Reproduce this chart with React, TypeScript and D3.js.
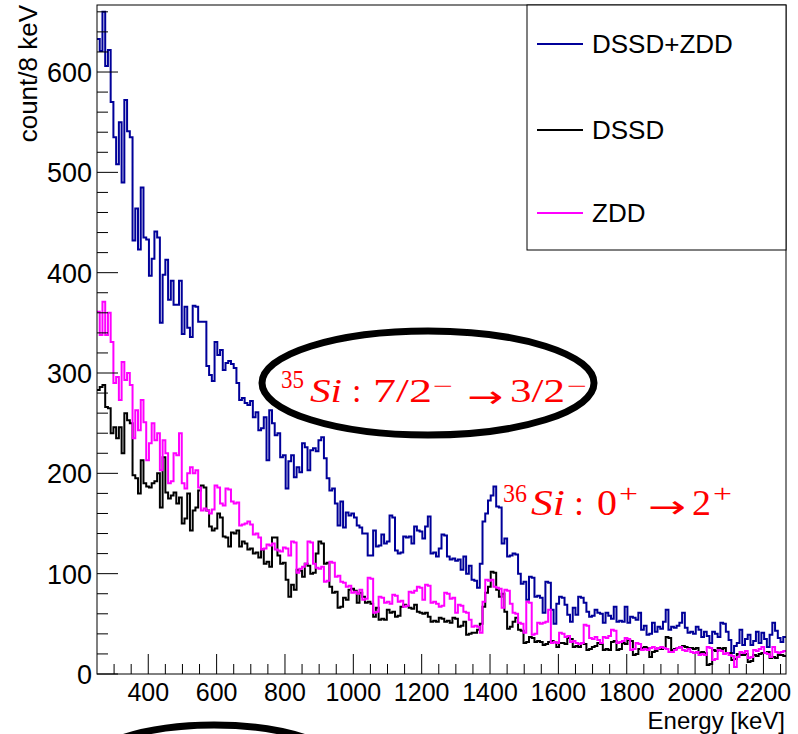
import React from "react";
import * as d3 from "d3";

// 8 keV bins starting at 250 keV
const eMin = 250;
const binWidth = 8;

const sumCounts = [
  633, 621, 660, 606, 622, 570, 535, 508, 550, 490,
  572, 541, 535, 432, 464, 423, 485, 435, 433, 397,
  414, 441, 435, 350, 398, 413, 373, 392, 368, 368,
  392, 339, 366, 345, 336, 367, 366, 351, 351, 351,
  307, 298, 292, 331, 318, 323, 303, 310, 312, 309,
  305, 290, 273, 275, 270, 268, 272, 256, 261, 243,
  245, 256, 213, 263, 250, 238, 240, 216, 218, 185,
  212, 218, 196, 206, 201, 230, 226, 203, 223, 225,
  222, 233, 236, 215, 195, 183, 185, 170, 148, 172,
  146, 161, 158, 160, 156, 148, 146, 140, 140, 118,
  118, 143, 127, 128, 139, 130, 132, 158, 156, 123,
  120, 121, 137, 136, 137, 130, 147, 143, 142, 135,
  147, 157, 120, 121, 117, 125, 139, 138, 117, 114,
  115, 113, 114, 104, 117, 100, 108, 94, 93, 86,
  110, 152, 160, 173, 178, 187, 167, 166, 130, 135,
  117, 118, 120, 119, 100, 90, 92, 74, 97, 96,
  77, 78, 76, 61, 92, 91, 64, 50, 70, 77,
  76, 69, 59, 52, 66, 59, 77, 76, 71, 62,
  57, 58, 64, 61, 60, 51, 61, 58, 55, 67,
  52, 53, 52, 67, 51, 57, 56, 54, 61, 44,
  48, 39, 40, 51, 42, 47, 45, 52, 64, 44,
  47, 46, 48, 51, 61, 46, 41, 42, 40, 47,
  44, 37, 42, 38, 31, 42, 40, 37, 51, 50,
  42, 34, 21, 28, 31, 44, 29, 35, 39, 29,
  33, 42, 31, 41, 35, 27, 39, 51, 43, 36,
  32, 37,
];

const dssdCounts = [
  283, 286, 288, 266, 265, 240, 246, 235, 246, 220,
  260, 253, 250, 198, 195, 180, 213, 190, 187, 186,
  190, 192, 200, 166, 216, 181, 175, 178, 181, 170,
  176, 150, 155, 180, 143, 163, 166, 183, 188, 186,
  163, 147, 143, 145, 160, 156, 137, 136, 127, 141,
  140, 143, 127, 132, 130, 124, 125, 120, 121, 116,
  124, 110, 112, 107, 136, 136, 118, 110, 111, 94,
  77, 89, 84, 104, 103, 97, 110, 108, 100, 101,
  120, 132, 130, 110, 111, 87, 81, 82, 66, 67,
  76, 74, 84, 85, 83, 71, 81, 77, 71, 72,
  70, 57, 66, 54, 55, 54, 64, 61, 62, 57,
  58, 67, 69, 68, 66, 65, 69, 62, 61, 60,
  61, 57, 52, 53, 52, 56, 55, 52, 53, 51,
  56, 55, 47, 48, 52, 39, 40, 41, 41, 44,
  50, 67, 81, 87, 102, 101, 84, 77, 80, 62,
  45, 47, 52, 56, 44, 43, 31, 32, 37, 36,
  32, 33, 32, 29, 30, 32, 33, 32, 27, 31,
  31, 30, 36, 35, 27, 28, 27, 31, 30, 24,
  25, 27, 28, 31, 30, 24, 25, 24, 32, 33,
  24, 25, 31, 30, 34, 33, 19, 20, 25, 26,
  27, 26, 17, 22, 23, 26, 25, 26, 37, 36,
  24, 25, 26, 27, 28, 27, 26, 26, 25, 26,
  21, 22, 21, 9, 10, 24, 23, 26, 25, 26,
  21, 21, 14, 15, 20, 19, 19, 20, 12, 13,
  19, 18, 20, 21, 21, 22, 16, 17, 16, 19,
  19, 18,
];

const zddCounts = [
  361, 338, 371, 338, 360, 331, 290, 296, 273, 311,
  293, 300, 288, 235, 263, 243, 273, 251, 213, 230,
  250, 233, 240, 203, 233, 220, 190, 192, 220, 218,
  240, 190, 185, 200, 206, 200, 203, 186, 163, 165,
  163, 160, 164, 188, 186, 170, 168, 185, 184, 172,
  170, 171, 148, 149, 150, 152, 149, 139, 140, 136,
  124, 125, 129, 128, 130, 124, 123, 122, 126, 125,
  118, 132, 131, 101, 105, 107, 110, 132, 131, 110,
  106, 105, 107, 92, 93, 112, 111, 97, 98, 92,
  91, 87, 88, 81, 82, 80, 84, 74, 75, 96,
  95, 61, 62, 77, 76, 71, 72, 70, 79, 78,
  72, 73, 67, 68, 82, 81, 83, 87, 86, 74,
  89, 88, 71, 72, 70, 67, 68, 81, 80, 75,
  76, 61, 69, 68, 62, 61, 54, 47, 48, 47,
  41, 72, 94, 93, 94, 87, 86, 85, 66, 84,
  83, 70, 61, 60, 51, 50, 41, 72, 71, 39,
  40, 51, 50, 51, 52, 64, 31, 32, 31, 41,
  40, 37, 38, 32, 33, 31, 30, 31, 49, 48,
  36, 35, 37, 34, 31, 37, 36, 38, 44, 43,
  31, 32, 33, 36, 35, 24, 25, 31, 30, 24,
  25, 24, 26, 27, 25, 26, 27, 26, 25, 22,
  22, 24, 26, 27, 24, 23, 25, 22, 21, 22,
  19, 20, 19, 27, 26, 14, 15, 24, 23, 20,
  21, 19, 18, 7, 17, 22, 21, 23, 16, 17,
  24, 23, 25, 27, 21, 20, 17, 27, 22, 21,
  22, 23,
];

const seriesNames = ["DSSD+ZDD", "DSSD", "ZDD"];
const seriesColors = ["#000099", "#000000", "#ff00ff"];
const xTickValues = [400, 600, 800, 1000, 1200, 1400, 1600, 1800, 2000, 2200];
const yTickValues = [0, 100, 200, 300, 400, 500, 600];

const W = 798;
const H = 734;
const plot = { left: 97, right: 786, top: 5, bottom: 674 };
const FONT = "'Liberation Sans', Arial, Helvetica, sans-serif";
const SERIF = "'Liberation Serif', 'Times New Roman', serif";
const ARROW = "'DejaVu Sans', sans-serif";
const RED = "#ff0000";

export default function App() {
  const nBins = sumCounts.length;
  const eMax = eMin + nBins * binWidth;

  const x = d3.scaleLinear().domain([eMin, eMax]).range([plot.left, plot.right]);
  const y = d3.scaleLinear().domain([0, 666.8]).range([plot.bottom, plot.top]);

  const stepPath = (counts: number[]) => {
    const pts: [number, number][] = counts.map((c, i) => [eMin + i * binWidth, c]);
    pts.push([eMin + counts.length * binWidth, counts[counts.length - 1]]);
    return d3
      .line<[number, number]>()
      .x((d) => x(d[0]))
      .y((d) => y(d[1]))
      .curve(d3.curveStepAfter)(pts) as string;
  };

  const allSeries = [sumCounts, dssdCounts, zddCounts];

  const xMinor = d3.range(eMin, eMax + 1, 50).filter((v) => v % 200 !== 0 && v > eMin);
  const yMinor = d3.range(0, 667, 20).filter((v) => v % 100 !== 0);

  const legendY = [44, 130, 213];

  return (
    <svg
      width={W}
      height={H}
      style={{ position: "absolute", left: 0, top: 0, background: "#fff" }}
      fontFamily={FONT}
    >
      <defs>
        <clipPath id="plotClip">
          <rect x={plot.left} y={plot.top} width={plot.right - plot.left} height={plot.bottom - plot.top} />
        </clipPath>
      </defs>
      <rect x={0} y={0} width={W} height={H} fill="#fff" />

      {/* histograms */}
      <g clipPath="url(#plotClip)">
        {allSeries.map((s, i) => (
          <path key={i} d={stepPath(s)} fill="none" stroke={seriesColors[i]} strokeWidth={2} />
        ))}
      </g>

      {/* frame */}
      <rect
        x={plot.left}
        y={plot.top}
        width={plot.right - plot.left}
        height={plot.bottom - plot.top}
        fill="none"
        stroke="#000"
        strokeWidth={1}
      />

      {/* x axis ticks */}
      {xTickValues.map((v) => (
        <g key={"xt" + v}>
          <line x1={x(v)} x2={x(v)} y1={plot.bottom} y2={plot.bottom - 20} stroke="#000" />
          <text x={x(v)} y={701} fontSize={25} textAnchor="middle">
            {v}
          </text>
        </g>
      ))}
      {xMinor.map((v) => (
        <line key={"xm" + v} x1={x(v)} x2={x(v)} y1={plot.bottom} y2={plot.bottom - 10} stroke="#000" />
      ))}
      <text x={785} y={728.5} fontSize={24} textAnchor="end">
        Energy [keV]
      </text>

      {/* y axis ticks */}
      {yTickValues.map((v) => (
        <g key={"yt" + v}>
          <line x1={plot.left} x2={plot.left + 21} y1={y(v)} y2={y(v)} stroke="#000" />
          <text x={92} y={y(v) + 10} fontSize={27} textAnchor="end">
            {v}
          </text>
        </g>
      ))}
      {yMinor.map((v) => (
        <line key={"ym" + v} x1={plot.left} x2={plot.left + 11} y1={y(v)} y2={y(v)} stroke="#000" />
      ))}
      <text transform="translate(37,5) rotate(-90)" fontSize={26} textAnchor="end">
        count/8 keV
      </text>

      {/* legend */}
      <rect x={527} y={plot.top} width={plot.right - 527} height={245} fill="#fff" stroke="#000" />
      {seriesNames.map((n, i) => (
        <g key={n}>
          <line x1={537} x2={583} y1={legendY[i]} y2={legendY[i]} stroke={seriesColors[i]} strokeWidth={2} />
          <text x={592} y={legendY[i] + 9} fontSize={26}>
            {n}
          </text>
        </g>
      ))}

      {/* annotation: 35Si */}
      <ellipse cx={428} cy={383} rx={166} ry={52} fill="none" stroke="#000" strokeWidth={7} />
      <g fill={RED} fontFamily={SERIF}>
        <text x={281} y={388} fontSize={26} textLength={23} lengthAdjust="spacingAndGlyphs">35</text>
        <text x={310} y={402} fontSize={34} fontStyle="italic" textLength={32} lengthAdjust="spacingAndGlyphs">Si</text>
        <text x={352} y={402} fontSize={34}>:</text>
        <text x={373} y={402} fontSize={34} textLength={59} lengthAdjust="spacingAndGlyphs">7/2</text>
        <text x={433} y={394} fontSize={24} textLength={20} lengthAdjust="spacingAndGlyphs">−</text>
        <text x={467} y={407} fontSize={30} fontFamily={ARROW} textLength={36} lengthAdjust="spacingAndGlyphs">→</text>
        <text x={510} y={402} fontSize={34} textLength={55} lengthAdjust="spacingAndGlyphs">3/2</text>
        <text x={567} y={394} fontSize={24} textLength={20} lengthAdjust="spacingAndGlyphs">−</text>
      </g>

      {/* annotation: 36Si */}
      <g fill={RED} fontFamily={SERIF}>
        <text x={503} y={502} fontSize={26} textLength={24} lengthAdjust="spacingAndGlyphs">36</text>
        <text x={531} y={515} fontSize={36} fontStyle="italic" textLength={34} lengthAdjust="spacingAndGlyphs">Si</text>
        <text x={574} y={515} fontSize={36}>:</text>
        <text x={597} y={515} fontSize={36} textLength={20} lengthAdjust="spacingAndGlyphs">0</text>
        <text x={619} y={502} fontSize={26} textLength={19} lengthAdjust="spacingAndGlyphs">+</text>
        <text x={648} y={518} fontSize={32} fontFamily={ARROW} textLength={38} lengthAdjust="spacingAndGlyphs">→</text>
        <text x={692} y={515} fontSize={36} textLength={19} lengthAdjust="spacingAndGlyphs">2</text>
        <text x={713} y={502} fontSize={26} textLength={19} lengthAdjust="spacingAndGlyphs">+</text>
      </g>

      {/* partial ellipse at the bottom edge */}
      <ellipse cx={214} cy={778} rx={140} ry={53} fill="none" stroke="#000" strokeWidth={7} />
    </svg>
  );
}
